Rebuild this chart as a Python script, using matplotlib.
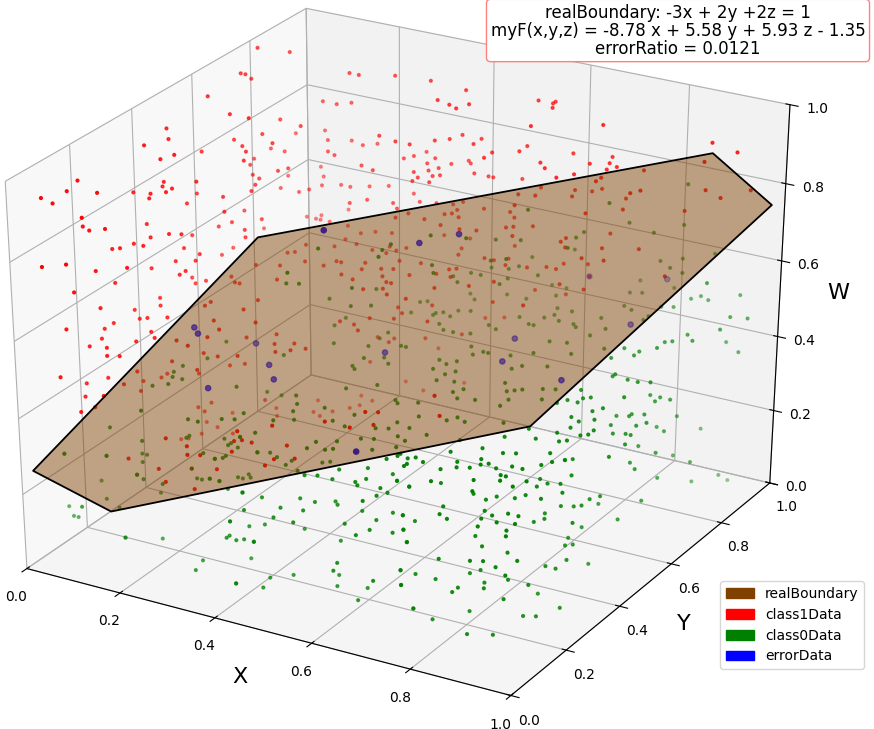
import matplotlib
matplotlib.use('Agg')
import matplotlib.pyplot as plt
import matplotlib.patches as mpatches
import numpy as np
from mpl_toolkits.mplot3d.art3d import Poly3DCollection

# boundary polygon corners
bound_x = [-0.119, -0.120, 0.376, 0.880, 0.878, 0.382]
bound_y = [0.205, 0.457, 1.207, 1.198, 0.945, 0.198]
bound_z = [0.116, -0.136, -0.142, 0.622, 0.872, 0.874]

# points, x y z in hundredths
class1 = np.array([
    [1,81,98],[3,89,94],[1,75,94],[2,75,94],[2,77,92],[2,62,94],[2,48,92],[3,39,92],[2,19,92],[1,9,92],
    [6,63,90],[10,63,90],[5,82,80],[3,47,90],[6,74,80],[1,94,70],[10,71,80],[1,85,70],
    [3,69,80],[6,67,80],[8,65,80],[1,61,80],[8,41,90],[7,38,90],[1,79,70],[4,85,70],[10,61,80],[2,76,70],[6,43,80],[6,41,80],[4,39,80],
    [5,72,70],[7,71,70],[8,76,70],[9,78,70],[1,91,60],[8,68,70],[3,45,80],[4,43,80],[8,48,80],[1,38,80],[5,37,80],
    [1,59,70],[1,17,90],[6,19,90],[2,11,90],[9,65,70],[3,85,60],[6,60,70],[2,54,70],[10,54,70],[3,72,60],[8,70,60],
    [10,8,90],[2,20,80],[4,19,80],[6,21,80],[1,42,70],[5,37,70],[3,63,60],[8,64,60],[4,66,60],[1,82,50],[7,40,70],
    [9,41,70],[1,57,60],[10,61,60],[14,92,90],[16,92,90],[22,95,90],[29,96,90],[37,95,90],[35,88,90],[7,94,80],[10,94,80],
    [12,96,80],[41,89,90],[38,87,90],[40,86,90],[51,97,90],[54,98,90],[55,95,90],[54,97,90],[56,85,90],[5,98,70],[10,81,80],[25,84,80],[38,92,80],[8,94,70],[12,96,70],[29,83,80],
    [35,87,80],[37,89,80],[42,92,80],[15,95,70],[17,97,70],[32,83,80],[42,89,80],[51,93,80],[11,89,70],[13,88,70],[27,98,70],[26,95,70],[47,87,80],[51,90,80],
    [60,94,80],[25,93,70],[30,96,70],[37,97,70],[36,98,70],[47,84,80],[30,93,70],[34,95,70],[4,98,60],[20,86,70],[33,92,70],[32,90,70],[23,85,70],[57,87,80],[59,85,80],
    [65,91,80],[30,88,70],[35,89,70],[34,88,70],[32,86,70],[40,93,70],[43,93,70],[44,93,70],[49,95,70],[63,82,80],[65,85,80],[32,84,70],[35,85,70],[8,87,60],[7,85,60],
    [9,90,60],[12,92,60],[14,92,60],[17,94,60],[20,96,60],[26,95,60],[18,85,60],[20,88,60],[25,89,60],[29,92,60],[10,98,50],[5,91,50],[7,93,50],[7,91,50],
    [8,91,50],[10,91,50],[27,87,60],[30,86,60],[32,93,60],[35,94,60],[36,96,60],[37,92,60],[36,89,60],[37,90,60],[39,89,60],[29,83,60],[34,85,60],[38,84,60],[26,86,50],
    [45,85,60],[20,91,50],[23,92,50],[18,89,50],[14,91,50],[46,96,60],[48,94,60],[49,89,60],[53,92,60],[54,93,70],[52,88,70],[55,89,70],[60,95,70],[61,92,70],[67,86,70],
    [7,94,60],[52,86,60],[61,90,60],[61,88,60],[63,86,60],[44,90,50],[46,90,50],[49,89,50],[38,92,50],[32,96,50],[12,79,50],[17,81,50],[17,85,50],
    [20,84,50],[24,83,50],[29,87,50],[35,82,50],[39,89,50],[22,75,50],[21,75,50],[20,72,50],[26,77,50],[30,76,50],[32,77,50],[31,81,50],[41,82,50],[42,83,50],[46,98,50],
    [53,90,50],[56,92,50],[58,92,50],[58,95,50],[68,83,60],[16,72,50],[27,74,50],[32,73,50],[36,76,50],[40,79,50],[6,1,80],[9,4,80],[2,29,70],[3,30,70],[4,33,70],
    [6,33,70],[5,19,70],[1,31,60],[9,23,70],[3,40,60],[7,9,70],[5,20,60],[1,37,50],[2,44,50],[4,41,50],[5,9,60],[1,27,50],[1,30,50],[4,34,50],[5,35,50],
    [8,37,50],[9,30,50],[3,23,50],[11,28,50],[9,25,50],[3,19,50],[6,20,50],[8,17,50],[10,18,50],[6,5,50],[4,23,40],[2,19,40],[5,14,40],[8,8,40],
    [3,51,60],[7,50,60],[5,45,60],[8,47,60],[9,42,60],[9,40,60],[2,55,50],[4,53,50],[5,55,50],[11,47,50],[1,67,50],[1,71,50],
    [11,74,50],[12,75,50],[13,68,50],[16,62,50],[8,59,50],[10,57,50],[11,57,50],[9,66,50],[11,45,50],[18,47,50],[18,52,50],[23,43,50],[19,37,50],[16,40,50],
    [16,51,40],[20,55,40],[19,33,50],[22,51,40],[25,53,40],[28,52,40],[26,50,40],[24,48,40],[15,29,50],[18,28,50],[13,41,40],[10,35,40],[3,42,30],[7,28,40],[1,39,30],
    [3,35,30],[8,22,40],[17,2,50],[9,11,40],[16,34,40],[8,47,30],[3,44,30],[11,53,30],[16,41,40],[19,43,40],[13,55,30],[7,48,20],[8,51,20],[9,47,20],[5,63,10],
    [16,57,20],[11,69,10],[18,71,10],[16,76,10],[56,12,50],[27,6,40],[3,48,10],[4,49,10],[5,52,10],[10,55,10],[38,11,40],[39,12,40],[17,9,30],[24,8,30],[33,13,30],
    [41,12,40],[41,95,60],[54,83,70],[28,85,50],[27,83,50],[25,70,50],[34,71,50],[35,71,50],[35,68,50],[37,66,50],[32,66,50],[28,69,50],[42,84,60],[37,97,50],[43,79,50],
    [48,77,50],[43,73,50],[41,66,50],[33,77,40],[38,81,40],[35,75,40],[41,74,40],[31,70,40],[30,66,40],[32,64,40],[27,66,40],[35,72,40],[28,78,30],[31,79,30],[36,82,30],
    [32,94,20],[41,87,30],[24,82,20],[31,77,30],[26,92,10],[22,82,10],[25,81,10],[24,78,10],[23,76,10],[31,90,10],[36,97,10],[50,90,60],[67,96,60],[72,91,70],[69,89,60],
    [72,84,60],[62,97,50],[48,92,50],[51,81,50],[47,88,40],[61,74,50],[51,97,40],[67,86,50],[44,98,30],[41,96,30],[67,31,50],[72,24,50],[64,15,50],[61,12,50],[67,92,90],
    [88,94,90],[94,92,90],[67,96,80],[68,93,80],[70,92,80],[69,90,80],[96,94,80],[91,85,90],[75,93,80],[70,86,80],[70,84,80],[63,96,70],[64,98,70],[79,84,80],
    [78,82,80],[70,96,70],[89,90,80],[93,88,80],[82,96,70],[75,92,60],[65,92,50],[85,83,60],[62,86,50],[57,98,40],[32,5,40],[36,3,40],[29,11,30],[45,1,50],[40,7,40],
    [6,56,10],[3,57,10],[13,66,10],[49,6,50],[20,70,10],[21,73,10],[47,14,40],[48,8,40],[51,10,40],[60,19,50],[62,20,50],[34,2,40],[48,5,40],[28,4,30],[34,4,30],
]) / 100

class0 = np.array([
    [43,32,80],[53,40,80],[53,37,80],[54,34,80],[57,47,80],[59,67,70],[63,69,70],[66,66,80],[71,78,70],[71,75,70],[65,86,60],[60,79,60],[65,60,70],[63,58,70],[59,72,60],
    [55,51,70],[57,48,70],[52,64,60],[54,67,60],[56,67,60],[65,72,60],[37,31,70],[44,20,80],[39,32,70],[23,33,50],[24,25,50],[22,20,50],[22,17,50],[22,10,50],
    [23,15,50],[25,15,50],[35,17,50],[32,32,40],[35,32,40],[35,33,50],[24,12,50],[16,5,40],[24,3,40],[6,5,30],
    [13,8,30],[18,12,30],[20,9,30],[35,1,50],[37,1,50],[40,4,50],[30,8,40],[38,13,40],[36,11,40],[38,9,40],[40,9,40],[44,9,40],[48,8,50],[49,13,50],
    [51,10,50],[48,2,50],[48,16,50],[42,8,50],[46,19,50],[59,1,50],[59,4,50],[62,2,50],[57,12,40],[51,7,40],[40,5,40],[39,3,40],[36,4,40],[29,11,30],
    [22,4,30],[26,0,50],[38,44,60],[36,49,50],[48,9,40],[51,9,40],[63,49,80],[77,76,80],[76,86,70],[56,71,60],[60,74,60],[61,85,50],[64,85,50],[64,81,50],[56,77,50],
    [61,68,60],[61,65,60],[54,62,60],[50,74,50],[52,72,50],[45,67,50],[44,66,50],[45,61,50],[49,62,50],[49,63,50],[50,64,50],[52,66,50],[52,63,50],[54,67,50],[43,43,60],
    [46,45,60],[43,52,60],[48,35,70],[36,53,50],[60,77,50],[63,69,50],[66,67,50],[67,67,50],[67,71,50],[68,73,50],[70,71,50],[73,71,50],[70,76,50],[76,76,50],[79,72,50],
    [77,83,50],[79,82,50],[60,63,50],[62,62,50],[52,59,50],[54,57,50],[56,57,50],[59,58,50],[62,53,50],[64,50,50],[65,52,50],[66,52,50],[70,53,50],[73,56,50],[73,62,50],
    [76,63,50],[79,59,50],[78,68,50],[83,64,50],[78,52,50],[74,50,50],[73,48,50],[62,44,50],[63,46,50],[60,45,50],[61,41,50],[64,40,50],[65,42,50],[64,37,50],[67,38,50],
    [70,36,50],[69,34,50],[71,32,50],[74,33,50],[75,42,50],[77,39,50],[79,36,50],[78,40,50],[79,41,50],[84,39,50],[84,44,50],[82,43,50],[79,33,50],[83,27,50],[46,51,50],
    [46,48,50],[46,44,50],[51,47,50],[52,47,50],[40,42,50],[51,41,50],[53,39,50],[48,39,50],[48,35,50],[49,34,50],[56,30,50],[52,26,50],[62,26,50],[66,27,50],[63,25,50],
    [69,22,50],[59,17,50],[74,23,50],[75,25,50],[77,24,50],[67,15,50],[67,18,50],[70,17,50],[65,14,50],[74,16,50],[86,61,50],[89,64,50],[90,55,50],[90,54,50],[93,54,50],
    [88,41,50],[90,43,50],[91,44,50],[95,41,50],[94,39,50],[94,34,50],[96,36,50],[91,54,40],[93,55,40],[92,33,40],[94,31,50],[97,29,50],[88,27,50],[86,22,50],[85,91,80],
    [85,90,70],[82,84,70],[72,70,70],[84,92,60],[81,89,60],[84,87,60],[87,86,60],[74,95,50],[81,95,50],[75,89,50],[77,90,50],[67,76,50],[74,70,50],[88,97,60],[93,84,60],
    [93,98,50],[86,92,50],[87,94,50],[85,87,50],[83,86,50],[89,93,50],[96,88,50],[99,89,50],[83,81,50],[83,79,50],[97,82,50],[93,77,50],[95,75,50],[93,93,40],
    [91,72,50],[92,73,50],[91,69,50],[97,90,40],[86,66,50],[89,66,50],[42,5,50],[53,17,50],[57,13,50],[60,12,50],[46,10,40],[63,3,50],[62,6,50],[65,9,50],[67,10,50],
    [70,13,50],[72,9,50],[69,6,50],[67,4,50],[72,12,50],[54,6,40],[56,11,40],[40,13,30],[38,12,30],[36,9,30],[34,9,30],[33,8,30],[21,13,20],[77,7,50],[74,7,50],
    [73,4,50],[77,3,50],[64,13,40],[60,10,40],[56,5,40],[58,6,40],[61,6,40],[65,7,40],[66,9,40],[66,6,40],[69,13,40],[71,11,40],[70,7,40],[71,4,40],[72,6,40],
    [74,10,40],[42,7,30],[39,7,30],[52,10,30],[55,10,30],[58,12,30],[59,11,30],[70,1,40],[51,5,30],[55,6,30],[52,1,30],[69,13,30],[71,13,30],[74,8,30],[74,12,30],
    [38,9,20],[42,9,20],[44,11,20],[56,1,30],[51,13,20],[64,5,30],[46,7,30],[68,9,30],[69,5,30],[73,6,30],[77,4,30],[41,4,20],[43,3,20],[44,4,20],[46,4,20],
    [23,10,10],[17,7,10],[46,1,30],[68,2,30],[59,12,20],[64,11,30],[63,4,20],[64,1,20],[58,13,10],[74,7,20],[51,9,10],[48,6,10],[44,1,10],[60,9,10],[72,1,20],[77,2,20],[49,2,10],[65,11,10],[66,6,10],[84,0,50],[92,0,50],[76,8,10],
    [95,54,50],[97,55,50],[88,46,50],[96,47,50],[92,65,40],[94,63,40],[94,65,40],[96,65,40],[87,39,50],[90,41,50],[92,35,50],[93,56,40],[95,57,40],[93,74,30],[92,86,20],
    [92,50,40],[96,52,40],[97,54,40],[92,68,30],[94,67,30],[98,32,50],[98,30,50],[93,28,50],[96,26,50],[95,25,50],[94,47,40],[96,48,40],[97,48,40],[98,44,40],[93,59,30],
    [91,24,50],[80,17,50],[85,16,50],[81,12,50],[89,16,50],[91,17,50],[96,20,50],[92,33,40],[93,34,40],[98,38,40],[95,52,30],[97,50,30],[97,58,30],[93,73,20],[97,72,20],
    [95,63,20],[94,79,10],[97,15,50],[98,17,50],[93,12,50],[95,12,50],[84,9,50],[88,10,50],[87,8,50],[87,12,50],[89,11,50],[91,10,50],
    [85,7,50],[83,5,50],[79,6,50],[77,4,50],[76,6,50],[74,6,50],[93,8,50],[94,8,50],[92,24,40],[96,28,40],[94,23,40],[96,24,40],
    [98,8,50],[90,4,50],[94,6,50],[78,14,40],[74,10,40],[71,11,40],[93,21,40],[97,5,50],[85,13,40],[98,21,40],[96,17,40],
    [93,17,40],[92,15,40],[89,14,40],[88,12,40],[97,37,30],[96,35,30],[91,48,20],[97,53,20],[93,30,30],[95,31,30],[96,32,30],
    [83,6,40],[84,3,40],[86,2,40],[90,8,40],[92,7,40],[94,9,40],[96,9,40],[92,26,30],[93,24,30],[92,22,30],[97,6,40],[94,5,40],
    [91,5,40],[97,44,20],[98,25,30],[93,38,20],[71,13,30],[74,8,30],[77,4,30],[92,2,40],[97,3,40],[98,1,40],[86,12,30],
    [93,33,20],[95,31,20],[94,30,20],[89,9,30],[94,9,30],[85,1,30],[90,3,30],[92,4,30],[97,7,30],[97,25,20],[94,39,10],[95,3,30],
    [95,21,20],[97,21,20],[74,7,20],[77,7,20],[86,14,20],[85,12,20],[98,1,30],[81,7,20],[92,13,20],[89,10,20],[77,2,20],[96,13,20],
    [86,6,20],[86,4,20],[90,8,20],[92,24,10],[95,6,20],[98,21,10],[76,8,10],[85,12,10],[94,15,10],[96,16,10],[81,6,10],[89,4,10],
    [93,6,10],[1,13,10],[4,10,10],[12,1,20],[5,10,10],[17,7,10],[34,6,10],[35,2,10],[44,1,10],[38,9,20],
    [41,3,20],[46,4,20],[41,11,10],[42,7,30],[6,5,30],[13,8,30],[9,12,20],[22,4,30],[24,3,30],
    [19,12,30],[28,3,30],[30,9,40],[39,3,40],[40,4,40],[38,10,40],[38,13,40],[44,9,40],[34,9,30],[36,9,30],
    [39,12,30],[39,14,30],[32,8,30],[14,6,20],[18,4,20],[97,84,10],[96,90,5],
]) / 100

error = np.array([
    [49,24,90],[57,43,80],[24,21,60],[26,19,60],[28,35,50],[35,28,50],[39,23,50],[31,14,50],[50,43,50],
    [61,50,80],[65,92,50],[67,60,50],[70,50,50],[83,48,50],[78,98,50],[82,76,50],[67,4,50],
]) / 100

legend_names = ['realBoundary', 'class1Data', 'class0Data', 'errorData']
legend_colors = ['#804000', 'r', 'g', 'b']
info = 'realBoundary: -3x + 2y +2z = 1\nmyF(x,y,z) = -8.78 x + 5.58 y + 5.93 z - 1.35\nerrorRatio = 0.0121'

fig = plt.figure(figsize=(8.74, 7.29), dpi=100)
Wx, Wy = 937, 746
cx, cy = 392, 349
ax = fig.add_axes([(cx - Wx / 2) / 874, (729 - cy - Wy / 2) / 729, Wx / 874, Wy / 729], projection='3d')
# keep the stretched box, newer matplotlib would force it square
ax.apply_aspect = lambda position=None: None
ax.set_box_aspect((1, 1, 0.993))
ax.computed_zorder = False

ax.scatter(class1[:, 0], class1[:, 1], class1[:, 2], c='r', s=4, zorder=1)
ax.scatter(class0[:, 0], class0[:, 1], class0[:, 2], c='g', s=4, zorder=2)
ax.scatter(error[:, 0], error[:, 1], error[:, 2], c='b', s=14, zorder=3)

verts = [list(zip(bound_x, bound_y, bound_z))]
plane = Poly3DCollection(verts, facecolor=(0.5, 0.25, 0, 0.47), edgecolor='k', linewidth=1.3, zorder=5)
ax.add_collection3d(plane)

ax.set_xlim(0, 1)
ax.set_ylim(0, 1)
ax.set_zlim(0, 1)
ax.set_xlabel('X', fontsize=16)
ax.set_ylabel('Y', fontsize=16)
ax.set_zlabel('W', fontsize=16)

handles = [mpatches.Patch(color=c, label=n) for c, n in zip(legend_colors, legend_names)]
fig.legend(handles=handles, loc='lower right', bbox_to_anchor=(864 / 874, 1 - 669 / 729), borderaxespad=0)
fig.text(678 / 874, 1 - 30.5 / 729, info, fontsize=12, ha='center', va='center', linespacing=1.0,
         bbox=dict(boxstyle='round,pad=0.25', ec=(1, 0.5, 0.5), fc=(1, 1, 1)))
fig.savefig('out.png', dpi=100)
